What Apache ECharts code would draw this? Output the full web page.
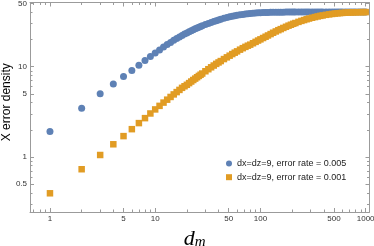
<!DOCTYPE html>
<html>
<head>
<meta charset="utf-8">
<script src="https://cdn.jsdelivr.net/npm/echarts@6/dist/echarts.min.js"></script>
<style>
html,body{margin:0;padding:0;background:#fff;}
#c{width:374px;height:246px;}
</style>
</head>
<body>
<div id="c"></div>
<script>
// ---- data ----
const dm = [1,2,3,4,5,6,7,8,9,10,11,12,13,14,15,16,17,18,19,20,
  21,22,23,24,25,26,27,28,30,32,34,36,38,40,42,45,48,51,54,57,60,64,68,72,76,80,85,90,95,100,
  106,112,118,125,132,140,148,156,165,175,185,195,205,215,230,245,260,275,290,310,330,350,370,390,
  420,450,480,510,540,570,600,640,680,720,760,800,850,900,950,1000];

const blueVals = [1.91,3.47,5.0,6.42,7.8,9.1,10.4,11.7,13.0,14.2,15.3,16.5,17.6,18.6,19.6,20.5,21.4,22.2,23.0,23.7,
  24.4,25.1,25.7,26.3,26.9,27.4,27.9,28.4,29.3,30.2,31.0,31.7,32.4,33.0,33.6,34.4,35.1,35.7,36.2,36.7,37.1,37.6,38.0,38.4,38.7,39.0,39.2,39.4,39.6,39.7,
  39.8,39.9,40.0,40.05,40.1,40.15,40.2,40.2,40.25,40.3,40.3,40.3,40.35,40.35,40.4,40.4,40.4,40.4,40.4,40.4,40.4,40.4,40.4,40.4,
  40.4,40.4,40.4,40.4,40.4,40.4,40.4,40.4,40.4,40.4,40.4,40.4,40.4,40.4,40.4,40.4];

const orangeVals = [0.395,0.73,1.05,1.38,1.70,2.03,2.37,2.69,3.03,3.36,3.68,4.0,4.31,4.62,4.93,5.23,5.53,5.83,6.07,6.3,
  6.58,6.85,7.12,7.38,7.64,7.9,8.15,8.4,8.9,9.38,9.85,10.3,10.75,11.15,11.55,12.15,12.7,13.25,13.8,14.3,14.8,15.45,16.05,16.6,17.1,17.55,18.2,18.85,19.5,20.1,
  20.8,21.5,22.2,23.0,23.8,24.6,25.4,26.1,26.9,27.7,28.5,29.2,29.9,30.5,31.4,32.2,32.9,33.6,34.2,34.9,35.5,36.1,36.6,37.0,
  37.6,38.05,38.45,38.8,39.1,39.3,39.5,39.7,39.85,39.95,40.05,40.1,40.2,40.25,40.3,40.3];

const seriesNames = ['dx=dz=9, error rate = 0.005', 'dx=dz=9, error rate = 0.001'];
const xMajorTicks = [1,5,10,50,100,500,1000];
const xMinorTicks = [0.7,0.8,0.9,2,3,4,6,7,8,9,20,30,40,60,70,80,90,200,300,400,600,700,800,900];
const yMajorTicks = [0.5,1,5,10,50];
const yMinorTicks = [0.3,0.4,0.6,0.7,0.8,0.9,2,3,4,6,7,8,9,20,30,40];

// ---- chart ----
const X_MIN = 0.646, X_MAX = 1088, Y_MIN = 0.245, Y_MAX = 51.5;
const frame = '#9b9b9b';
const labelColor = '#333';

function xAx(pos, ticks, len, showLine, showLabel) {
  return {
    type: 'log', logBase: 10, min: X_MIN, max: X_MAX, position: pos,
    axisLine: { show: showLine, lineStyle: { color: frame, width: 1 } },
    axisTick: { show: true, inside: true, length: len, customValues: ticks, lineStyle: { color: frame, width: 1 } },
    axisLabel: { show: showLabel, customValues: ticks, fontSize: 8, color: labelColor, margin: 3,
      fontFamily: 'Liberation Sans', formatter: v => String(v) },
    splitLine: { show: false }, minorTick: { show: false }
  };
}
function yAx(pos, ticks, len, showLine, showLabel, extra) {
  return Object.assign({
    type: 'log', logBase: 10, min: Y_MIN, max: Y_MAX, position: pos,
    axisLine: { show: showLine, lineStyle: { color: frame, width: 1 } },
    axisTick: { show: true, inside: true, length: len, customValues: ticks, lineStyle: { color: frame, width: 1 } },
    axisLabel: { show: showLabel, customValues: ticks, fontSize: 8, color: labelColor, margin: 3,
      fontFamily: 'Liberation Sans', formatter: v => String(v) },
    splitLine: { show: false }, minorTick: { show: false }
  }, extra || {});
}

const chart = echarts.init(document.getElementById('c'), null, { renderer: 'canvas' });
const xMain = xAx('bottom', xMajorTicks, 4, true, true);
xMain.name = '{d|d}{m|m}';
xMain.nameLocation = 'middle';
xMain.nameGap = 13;
xMain.nameTextStyle = {
  padding: [0, 10, 0, 0],
  rich: {
    d: { fontFamily: 'Liberation Serif', fontStyle: 'italic', fontSize: 22, color: '#000', verticalAlign: 'top', lineHeight: 22, padding: [0,0,5,0] },
    m: { fontFamily: 'Liberation Serif', fontStyle: 'italic', fontSize: 15, color: '#000', verticalAlign: 'bottom', lineHeight: 15 }
  }
};
const yMain = yAx('left', yMajorTicks, 4, true, true, {
  name: 'X error density', nameLocation: 'middle', nameGap: 17, nameRotate: 90, nameMoveOverlap: false,
  nameTextStyle: { fontFamily: 'Liberation Sans', fontSize: 12, color: '#000', padding: [0, 0, 0, 10] }
});

chart.setOption({
  animation: false,
  backgroundColor: '#fff',
  grid: { left: 30, right: 4.5, top: 2.5, bottom: 34, containLabel: false, outerBoundsMode: 'none' },
  xAxis: [
    xMain,
    xAx('bottom', xMinorTicks, 2.5, false, false),
    xAx('top', xMajorTicks, 4, true, false),
    xAx('top', xMinorTicks, 2.5, false, false)
  ],
  yAxis: [
    yMain,
    yAx('left', yMinorTicks, 2.5, false, false),
    yAx('right', yMajorTicks, 4, true, false),
    yAx('right', yMinorTicks, 2.5, false, false)
  ],
  legend: {
    orient: 'vertical', left: 226, top: 159, padding: 0, itemWidth: 6, itemHeight: 6, itemGap: 4.7,
    textStyle: { fontSize: 9, color: '#222', fontFamily: 'Liberation Sans', lineHeight: 8 },
    data: [ { name: seriesNames[0], icon: 'circle' }, { name: seriesNames[1], icon: 'rect' } ]
  },
  series: [
    { name: seriesNames[0], type: 'scatter', symbol: 'circle', symbolSize: 7,
      itemStyle: { color: '#5E81B5', opacity: 1 }, data: dm.map((d, i) => [d, blueVals[i]]) },
    { name: seriesNames[1], type: 'scatter', symbol: 'rect', symbolSize: 6.5,
      itemStyle: { color: '#E19C24', opacity: 1 }, data: dm.map((d, i) => [d, orangeVals[i]]) }
  ]
});
</script>
</body>
</html>
